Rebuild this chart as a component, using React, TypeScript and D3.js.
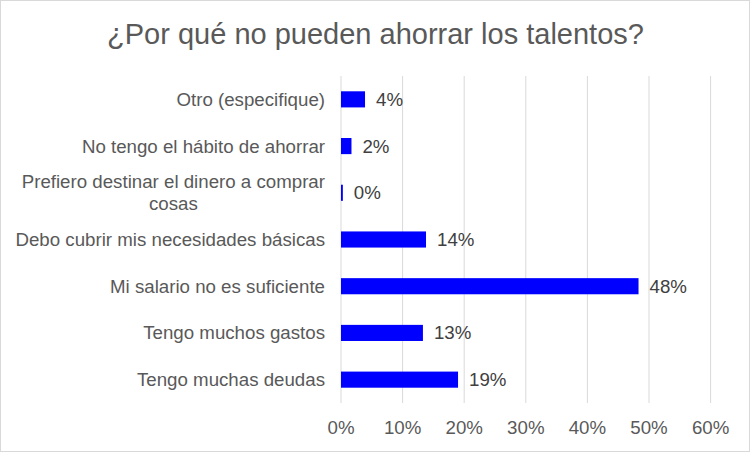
import { useEffect, useRef } from "react";
import * as d3 from "d3";

const categories = [
  "Otro (especifique)",
  "No tengo el hábito de ahorrar",
  "Prefiero destinar el dinero a comprar cosas",
  "Debo cubrir mis necesidades básicas",
  "Mi salario no es suficiente",
  "Tengo muchos gastos",
  "Tengo muchas deudas",
];
const values = [0.039, 0.017, 0.003, 0.138, 0.483, 0.133, 0.19];
const valueLabels = ["4%", "2%", "0%", "14%", "48%", "13%", "19%"];
const xTicks = [0, 0.1, 0.2, 0.3, 0.4, 0.5, 0.6];

const title = "¿Por qué no pueden ahorrar los talentos?";

export default function App() {
  const ref = useRef<SVGSVGElement>(null);

  useEffect(() => {
    document.body.style.margin = "0";
    const svg = d3.select(ref.current);
    svg.selectAll("*").remove();

    const width = 752;
    const height = 452;
    const margin = { top: 76, right: 41.4, bottom: 49, left: 341 };
    const font = "'Liberation Sans', Arial, sans-serif";
    const textColor = "#595959";

    // chart border
    svg.append("rect")
      .attr("x", 0.5).attr("y", 0.5)
      .attr("width", width - 3).attr("height", height - 1)
      .attr("fill", "#fff")
      .attr("stroke", "#d9d9d9");

    svg.append("text")
      .attr("x", 375.5).attr("y", 43.5)
      .attr("text-anchor", "middle")
      .attr("font-family", font)
      .attr("font-size", 29)
      .attr("fill", textColor)
      .text(title);

    const xScale = d3.scaleLinear()
      .domain([0, 0.6])
      .range([margin.left, width - margin.right]);

    const yScale = d3.scaleBand<string>()
      .domain(categories)
      .range([margin.top, height - margin.bottom])
      .paddingInner(0)
      .paddingOuter(0);

    const barH = yScale.bandwidth() * 0.345;

    const g = svg.append("g");

    // gridlines
    g.selectAll("line.grid")
      .data(xTicks)
      .join("line")
      .attr("class", "grid")
      .attr("x1", d => xScale(d)).attr("x2", d => xScale(d))
      .attr("y1", margin.top).attr("y2", height - margin.bottom)
      .attr("stroke", "#d9d9d9")
      .attr("stroke-width", 1);

    // tick labels
    g.selectAll("text.tick")
      .data(xTicks)
      .join("text")
      .attr("class", "tick")
      .attr("x", d => xScale(d))
      .attr("y", 434)
      .attr("text-anchor", "middle")
      .attr("font-family", font)
      .attr("font-size", 18.7)
      .attr("fill", textColor)
      .text(d => d3.format(".0%")(d));

    // bars
    g.selectAll("rect.bar")
      .data(categories)
      .join("rect")
      .attr("class", "bar")
      .attr("x", xScale(0))
      .attr("y", d => yScale(d)! + yScale.bandwidth() / 2 - barH / 2)
      .attr("width", (d, i) => xScale(values[i]) - xScale(0))
      .attr("height", barH)
      .attr("fill", "#0000ff");

    // value labels
    g.selectAll("text.val")
      .data(categories)
      .join("text")
      .attr("class", "val")
      .attr("x", (d, i) => xScale(values[i]) + 11)
      .attr("y", d => yScale(d)! + yScale.bandwidth() / 2 + 6.5)
      .attr("font-family", font)
      .attr("font-size", 18.7)
      .attr("fill", "#404040")
      .text((d, i) => valueLabels[i]);

    // category labels, wrapped to the label area
    const labelRight = 325;
    const maxWidth = 310;
    const lineH = 22;
    categories.forEach(cat => {
      const cy = yScale(cat)! + yScale.bandwidth() / 2;
      const t = g.append("text")
        .attr("font-family", font)
        .attr("font-size", 18.7)
        .attr("fill", textColor);
      const words = cat.split(" ");
      const lines: string[] = [];
      let line: string[] = [];
      const probe = t.append("tspan");
      words.forEach(w => {
        line.push(w);
        probe.text(line.join(" "));
        if ((probe.node() as SVGTSpanElement).getComputedTextLength() > maxWidth && line.length > 1) {
          line.pop();
          lines.push(line.join(" "));
          line = [w];
        }
      });
      lines.push(line.join(" "));
      probe.remove();

      if (lines.length === 1) {
        t.attr("x", labelRight).attr("y", cy + 6.5)
          .attr("text-anchor", "end")
          .text(lines[0]);
      } else {
        const widths = lines.map(l => {
          const s = t.append("tspan").text(l);
          const w = (s.node() as SVGTSpanElement).getComputedTextLength();
          s.remove();
          return w;
        });
        const cx = labelRight - d3.max(widths)! / 2;
        t.attr("text-anchor", "middle");
        lines.forEach((l, i) => {
          t.append("tspan")
            .attr("x", cx)
            .attr("y", cy + 6.5 + (i - (lines.length - 1) / 2) * lineH)
            .text(l);
        });
      }
    });
  }, []);

  return <svg ref={ref} width={752} height={452} style={{ display: "block" }} />;
}
